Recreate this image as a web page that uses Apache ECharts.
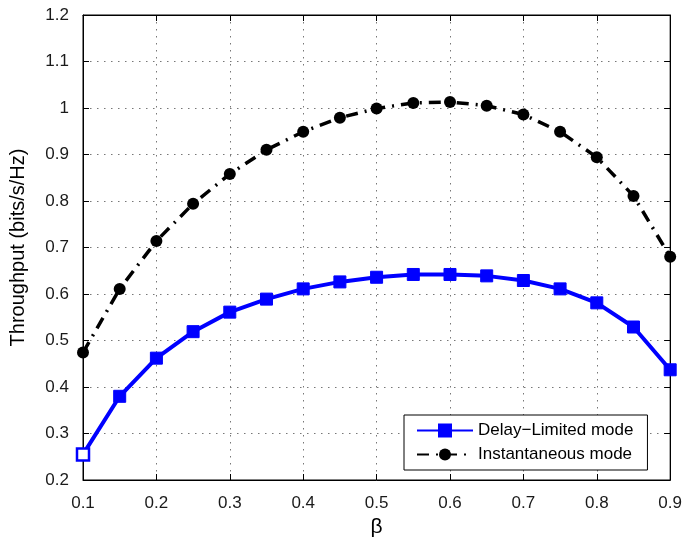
<!DOCTYPE html>
<html>
<head>
<meta charset="utf-8">
<script src="https://cdn.jsdelivr.net/npm/echarts@6/dist/echarts.min.js"></script>
<style>
  html, body { margin: 0; padding: 0; background: #fff; }
  #main { width: 685px; height: 545px; }
</style>
</head>
<body>
<div id="main"></div>
<script>
// beta values on the x axis
const beta = [0.1, 0.15, 0.2, 0.25, 0.3, 0.35, 0.4, 0.45, 0.5, 0.55, 0.6, 0.65, 0.7, 0.75, 0.8, 0.85, 0.9];
// throughput curves
const delayLimited = [0.255, 0.38, 0.462, 0.519, 0.561, 0.589, 0.611, 0.626, 0.636, 0.642, 0.642, 0.639, 0.629, 0.611, 0.581, 0.529, 0.437];
const instantaneous = [0.474, 0.611, 0.714, 0.794, 0.858, 0.910, 0.949, 0.979, 0.999, 1.011, 1.013, 1.005, 0.986, 0.949, 0.894, 0.811, 0.680];
const xTicks = { min: 0.1, max: 0.9, step: 0.1 };
const yTicks = { min: 0.2, max: 1.2, step: 0.1 };

const font = 'Liberation Sans, Arial, sans-serif';
const gridDots = { show: true, lineStyle: { color: '#777', width: 1, type: [1.5, 5.5] } };

let chart = echarts.init(document.getElementById('main'));

const blueData = beta.map((b, i) => {
    let p = { value: [b, delayLimited[i]] };
    if (i === 0) p.itemStyle = { color: '#fff', borderColor: '#0000ff', borderWidth: 2.5 };
    return p;
});

const option = {
    animation: false,
    textStyle: { fontFamily: font },
    grid: { left: 82, right: 12, top: 15, bottom: 65, show: true, borderColor: '#000', borderWidth: 1 },
    legend: {
        orient: 'vertical',
        left: 404,
        top: 415,
        padding: [7, 14, 7, 12],
        itemGap: 7,
        itemWidth: 56,
        itemHeight: 15,
        backgroundColor: '#fff',
        borderColor: '#000',
        borderWidth: 1,
        textStyle: { fontFamily: font, fontSize: 17, color: '#000' },
        data: ['Delay\u2212Limited mode', 'Instantaneous mode']
    },
    xAxis: [{
        type: 'value',
        min: xTicks.min, max: xTicks.max, interval: xTicks.step,
        name: 'β',
        nameLocation: 'middle',
        nameGap: 36,
        nameTextStyle: { fontFamily: font, fontSize: 21, color: '#000' },
        axisLine: { show: true, onZero: false, lineStyle: { color: '#000', width: 1 } },
        axisTick: { inside: true, length: 6, lineStyle: { color: '#000' } },
        axisLabel: { fontFamily: font, fontSize: 17, color: '#1a1a1a', margin: 15 },
        splitLine: gridDots
    }, {
        type: 'value', position: 'top',
        min: xTicks.min, max: xTicks.max, interval: xTicks.step,
        axisLine: { show: true, lineStyle: { color: '#000' } },
        axisTick: { inside: true, length: 6, lineStyle: { color: '#000' } },
        axisLabel: { show: false },
        splitLine: { show: false }
    }],
    yAxis: [{
        type: 'value',
        min: yTicks.min, max: yTicks.max, interval: yTicks.step,
        name: 'Throughput (bits/s/Hz)',
        nameLocation: 'middle',
        nameGap: 55,
        nameTextStyle: { fontFamily: font, fontSize: 20, color: '#000' },
        axisLine: { show: true, lineStyle: { color: '#000', width: 1 } },
        axisTick: { inside: true, length: 6, lineStyle: { color: '#000' } },
        axisLabel: { fontFamily: font, fontSize: 17, color: '#1a1a1a', margin: 14 },
        splitLine: gridDots
    }, {
        type: 'value', position: 'right',
        min: yTicks.min, max: yTicks.max, interval: yTicks.step,
        axisLine: { show: true, lineStyle: { color: '#000' } },
        axisTick: { inside: true, length: 6, lineStyle: { color: '#000' } },
        axisLabel: { show: false },
        splitLine: { show: false }
    }],
    series: [
        {
            name: 'Delay\u2212Limited mode',
            type: 'line',
            data: blueData,
            symbol: 'rect',
            symbolSize: 12,
            lineStyle: { color: '#0000ff', width: 4 },
            itemStyle: { color: '#0000ff', borderColor: '#0000ff', borderWidth: 1 },
            z: 3
        },
        {
            name: 'Instantaneous mode',
            type: 'line',
            data: beta.map((b, i) => [b, instantaneous[i]]),
            symbol: 'circle',
            symbolSize: 12,
            lineStyle: { color: '#000', width: 3.5, type: [12, 7, 2, 7] },
            itemStyle: { color: '#000' },
            z: 2
        }
    ]
};

chart.setOption(option);
</script>
</body>
</html>
